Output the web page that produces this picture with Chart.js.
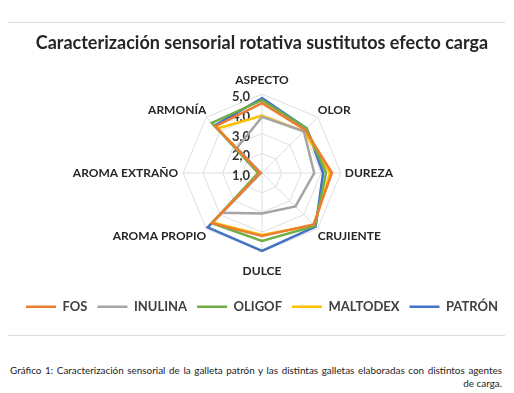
<!DOCTYPE html>
<html>
<head>
<meta charset="utf-8">
<script src="https://cdn.jsdelivr.net/npm/chart.js@4/dist/chart.umd.min.js"></script>
<style>
  body { margin: 0; background: #fff; width: 514px; height: 393px; position: relative; overflow: hidden; }
  #wrap { position: absolute; left: 0; top: 0; width: 514px; height: 335px; }
  .rule { position: absolute; left: 8px; width: 497px; height: 1px; background: #dcdcdc; }
  .caption { position: absolute; left: 10px; width: 492px; font-family: Lato, sans-serif; font-size: 9.9px; line-height: 13px; color: #222; }
</style>
</head>
<body>
<div class="rule" style="top:22px"></div>
<div class="rule" style="top:335px"></div>
<div id="wrap"><canvas id="radar-chart"></canvas></div>
<div class="caption" style="top:364px; text-align:justify; text-align-last:justify;">Gráfico 1: Caracterización sensorial de la galleta patrón y las distintas galletas elaboradas con distintos agentes</div>
<div class="caption" style="top:377px; text-align:right;">de carga.</div>
<script>
// Attributes (radar axes)
const attributes = ['ASPECTO', 'OLOR', 'DUREZA', 'CRUJIENTE', 'DULCE', 'AROMA PROPIO', 'AROMA EXTRAÑO', 'ARMONÍA'];

// Scores
const fosValues = [4.55, 4.1, 4.55, 4.7, 4.2, 4.6, 1.1, 4.35];
const inulinaValues = [3.85, 4.0, 3.65, 3.4, 3.05, 3.85, 1.05, 2.8];
const oligofValues = [4.7, 4.2, 4.25, 4.8, 4.45, 4.6, 1.2, 4.6];
const maltodexValues = [3.9, 4.0, 4.45, 4.75, 4.15, 4.55, 1.1, 4.2];
const patronValues = [4.8, 4.2, 4.1, 4.85, 4.95, 4.9, 1.1, 4.4];

// Radial axis ticks
const tickValues = [1, 2, 3, 4, 5];
const tickLabels = ['1,0', '2,0', '3,0', '4,0', '5,0'];

function series(label, data, color) {
  return {
    label: label,
    data: data,
    borderColor: color,
    backgroundColor: color,
    borderWidth: 2.5,
    fill: false,
    pointRadius: 0,
    pointHoverRadius: 0,
    pointStyle: 'line'
  };
}

// Tick labels sit left of the vertical axis, like in Excel
const tickLabelPlugin = {
  id: 'tickLabels',
  beforeDatasetsDraw(chart) {
    const scale = chart.scales.r;
    const ctx = chart.ctx;
    ctx.save();
    ctx.font = 'bold 13px Lato';
    ctx.fillStyle = '#333';
    ctx.textAlign = 'center';
    ctx.textBaseline = 'middle';
    tickValues.forEach((v, i) => {
      const d = scale.getDistanceFromCenterForValue(v);
      ctx.fillText(tickLabels[i], scale.xCenter - 21, scale.yCenter - d + 3);
    });
    ctx.restore();
  }
};

// label gap per axis: diagonals hug the web, bottom one sits lower
function labelPadding(c) {
  const i = c.index;
  if (i === 0) return 7;
  if (i === 2) return 4;
  if (i === 4) return 11.8;
  if (i === 6) return 5;
  return 0;
}

const ctx = document.getElementById('radar-chart').getContext('2d');
const chart = new Chart(ctx, {
  type: 'radar',
  data: {
    labels: attributes,
    datasets: [
      series('FOS', fosValues, '#ED7D31'),
      series('INULINA', inulinaValues, '#A5A5A5'),
      series('OLIGOF', oligofValues, '#70AD47'),
      series('MALTODEX', maltodexValues, '#FFC000'),
      series('PATRÓN', patronValues, '#4472C4')
    ]
  },
  options: {
    responsive: true,
    maintainAspectRatio: false,
    animation: false,
    layout: {
      padding: { left: 10, right: 0, top: 0, bottom: 11.75 }
    },
    plugins: {
      title: {
        display: true,
        text: 'Caracterización sensorial rotativa sustitutos efecto carga',
        color: '#262626',
        font: { family: 'Lato', size: 18, weight: 'bold' },
        padding: { top: 32.2, bottom: 17.7 }
      },
      legend: {
        position: 'bottom',
        title: {
          display: true,
          text: '',
          font: { size: 5 },
          padding: { top: 4.25, bottom: 0 }
        },
        labels: {
          usePointStyle: true,
          pointStyleWidth: 30,
          padding: 10,
          color: '#404040',
          font: { family: 'Lato', size: 13, weight: 'bold' }
        }
      },
      tooltip: { enabled: false }
    },
    scales: {
      r: {
        min: 1,
        max: 5,
        ticks: { stepSize: 1, display: false },
        grid: { color: '#dedede', lineWidth: 1 },
        angleLines: { color: '#dedede', lineWidth: 1 },
        pointLabels: {
          padding: labelPadding,
          color: '#262626',
          font: { family: 'Lato', size: 12, weight: 'bold' }
        }
      }
    }
  },
  plugins: [tickLabelPlugin]
});
</script>
</body>
</html>
